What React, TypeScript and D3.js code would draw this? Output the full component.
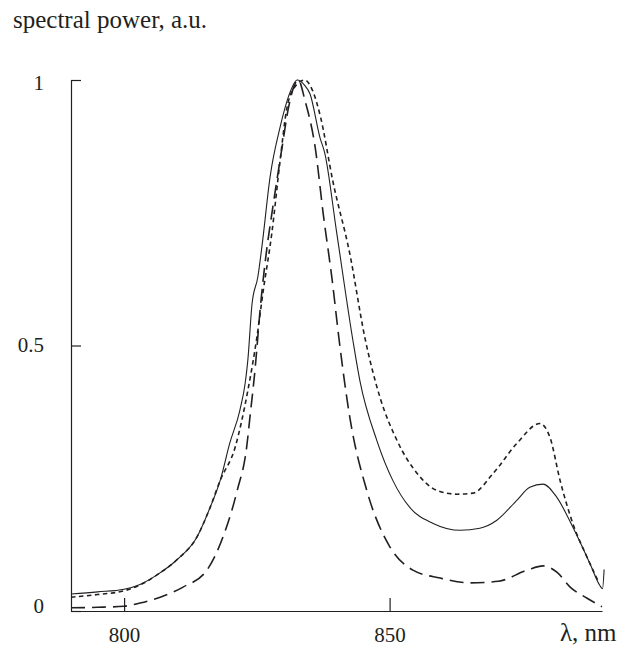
import React, { Component } from "react";
import * as d3 from "d3";

// wavelength (nm) / normalized spectral power
const lambdaSolid = [790, 795, 800, 803, 806.2, 810, 813.7, 816.2, 818.1, 819.9, 821.8, 822.8, 823.3, 824.1, 825.2, 826, 827.5, 829.4, 831, 832.6, 834, 835, 836.9, 837.8, 840, 843.1, 844.4, 847.6, 850.6, 853.8, 858.2, 863.3, 867, 870.2, 874, 876.4, 878.9, 881.5, 884.5, 887.7, 889.6, 890.1, 890.4];
const powerSolid = [0.032, 0.036, 0.041, 0.05, 0.068, 0.097, 0.139, 0.195, 0.246, 0.316, 0.378, 0.429, 0.472, 0.579, 0.63, 0.69, 0.818, 0.912, 0.97, 1.0, 0.99, 0.974, 0.891, 0.862, 0.715, 0.509, 0.434, 0.321, 0.246, 0.195, 0.165, 0.152, 0.156, 0.171, 0.209, 0.233, 0.239, 0.214, 0.158, 0.09, 0.048, 0.042, 0.078];

const lambdaDotted = [790, 795, 800, 803, 806.2, 810, 813.7, 816.2, 818.1, 820.9, 823.3, 825, 826.2, 827.8, 829.4, 830.6, 832, 834, 835.5, 837, 839.3, 842.5, 845.4, 848.2, 851.4, 855.2, 858.9, 862.7, 865.7, 869.5, 874, 878.3, 880.2, 882.1, 884.5, 887.2, 889.2];
const powerDotted = [0.026, 0.031, 0.038, 0.049, 0.068, 0.097, 0.139, 0.195, 0.246, 0.308, 0.415, 0.515, 0.603, 0.71, 0.85, 0.944, 0.985, 1.0, 0.98, 0.93, 0.81, 0.673, 0.512, 0.402, 0.321, 0.259, 0.227, 0.22, 0.222, 0.259, 0.316, 0.353, 0.327, 0.246, 0.165, 0.101, 0.058];

const lambdaDashed = [790, 795, 800, 803, 806.8, 811.1, 815.6, 818.6, 821.3, 823.1, 823.7, 824.7, 825.6, 826.6, 828, 829.7, 831, 832.8, 834.1, 836, 837.5, 839.2, 840.5, 842.5, 845.7, 850.1, 854.4, 859.5, 865.1, 870.5, 875.9, 878.9, 881.5, 884, 887.2, 890];
const powerDashed = [0.006, 0.007, 0.009, 0.015, 0.026, 0.045, 0.077, 0.139, 0.227, 0.31, 0.365, 0.459, 0.566, 0.66, 0.76, 0.87, 0.95, 1.0, 0.96, 0.872, 0.748, 0.622, 0.51, 0.365, 0.227, 0.12, 0.077, 0.062, 0.053, 0.056, 0.077, 0.085, 0.073, 0.045, 0.024, 0.008];

const yTicks = [0, 0.5, 1];
const yTickShift = ["0.05em", "0.29em", "0.47em"];
const xTicks = [800, 850];
const xDomain = [790, 890];

var styles = {
  width: 624,
  height: 650,
  left: 71,
  right: 602,
  top: 80,
  bottom: 611,
  ink: "#231f20",
  font: "Liberation Serif"
};

class Chart extends Component {
  svgRef = React.createRef<SVGSVGElement>();
  xScale: any;
  yScale: any;

  componentDidMount() {
    this.xScale = d3.scaleLinear().domain(xDomain).range([styles.left, styles.right]);
    this.yScale = d3.scaleLinear().domain([0, 1]).range([styles.bottom, styles.top]);
    this.drawAxis();
    this.drawChart();
  }

  drawAxis() {
    const svg = d3.select(this.svgRef.current);

    const xAxis = svg
      .append("g")
      .attr("transform", `translate(0, ${styles.bottom})`)
      .call(
        d3
          .axisBottom(this.xScale)
          .tickValues(xTicks)
          .tickSizeInner(-13)
          .tickSizeOuter(0)
          .tickPadding(16)
          .tickFormat(d => String(d))
      );

    const yAxis = svg
      .append("g")
      .attr("transform", `translate(${styles.left}, 0)`)
      .call(
        d3
          .axisLeft(this.yScale)
          .tickValues(yTicks)
          .tickSizeInner(-10)
          .tickSizeOuter(0)
          .tickPadding(27)
          .tickFormat(d => String(d))
      );

    [xAxis, yAxis].forEach(g => {
      g.attr("font-family", styles.font).attr("font-size", 21);
      g.select(".domain").attr("stroke", styles.ink).attr("stroke-width", 1.2);
      g.selectAll(".tick line").attr("stroke", styles.ink).attr("stroke-width", 1.2);
      g.selectAll(".tick text").attr("fill", styles.ink);
    });
    // the printed labels sit a little off their ticks
    yAxis.selectAll(".tick text").attr("dy", (d, i) => yTickShift[i]);

    svg
      .append("text")
      .text("spectral power, a.u.")
      .attr("x", 13)
      .attr("y", 28)
      .attr("font-family", styles.font)
      .attr("font-size", 25)
      .attr("fill", styles.ink);

    svg
      .append("text")
      .text("λ, nm")
      .attr("x", 560)
      .attr("y", 641)
      .attr("font-family", styles.font)
      .attr("font-size", 25)
      .attr("fill", styles.ink);
  }

  drawChart() {
    const svg = d3.select(this.svgRef.current);
    const line = d3
      .line<[number, number]>()
      .x(d => this.xScale(d[0]))
      .y(d => this.yScale(d[1]))
      .curve(d3.curveMonotoneX);

    const series = [
      { xs: lambdaSolid, ys: powerSolid, dash: null, width: 1.1 },
      { xs: lambdaDotted, ys: powerDotted, dash: "4.5,3.5", width: 1.6 },
      { xs: lambdaDashed, ys: powerDashed, dash: "14,7", width: 1.6 }
    ];

    svg
      .append("g")
      .selectAll("path")
      .data(series)
      .enter()
      .append("path")
      .attr("d", s => line(s.xs.map((x, i) => [x, s.ys[i]] as [number, number])))
      .attr("fill", "none")
      .attr("stroke", styles.ink)
      .attr("stroke-width", s => s.width)
      .attr("stroke-dasharray", s => s.dash);
  }

  render() {
    return (
      <svg
        ref={this.svgRef}
        width={styles.width}
        height={styles.height}
        style={{ position: "absolute", left: 0, top: 0, background: "#fff" }}
      />
    );
  }
}

export default function App() {
  return <Chart />;
}
